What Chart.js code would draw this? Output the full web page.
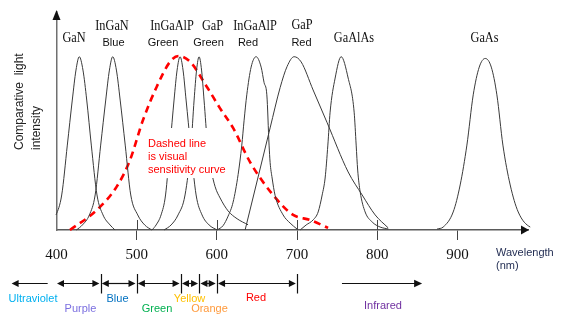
<!DOCTYPE html>
<html><head><meta charset="utf-8">
<script src="https://cdn.jsdelivr.net/npm/chart.js@4.4.1/dist/chart.umd.min.js"></script>
<style>html,body{margin:0;padding:0;background:#fff}#wrap{width:570px;height:322px;position:relative}</style>
</head><body><div id="wrap"><canvas id="c" width="570" height="322"></canvas></div>
<script>
// ---- data (wavelength nm, relative intensity) ----
const tickValues = [400, 500, 600, 700, 800, 900];
const ganX = [383.2, 390.6, 399.4, 406.5, 413.5, 419.7, 424.3, 428.4, 433.0, 437.7, 443.4, 450.5, 458.0, 466.8, 473.0];
const ganY = [0, 2.9, 8.7, 20.2, 49, 75, 92.3, 100, 92.3, 75, 49, 20.2, 8.7, 2.9, 0];
const inganX = [424.8, 432.3, 441.0, 448.2, 455.1, 461.4, 466.0, 470.1, 474.7, 479.4, 485.7, 492.6, 501.3, 510.0, 518.8];
const inganY = [0, 2.9, 8.7, 20.2, 49, 75, 92.3, 100, 92.3, 75, 49, 20.2, 8.7, 2.9, 0];
const ingaalpGreenX = [519.2, 524.2, 530.4, 536.0, 541.6, 546.6, 550.4, 554.1, 557.8, 561.6, 567.2, 574.1, 581.5, 590.3, 600.3];
const ingaalpGreenY = [0, 2.9, 8.7, 20.2, 49, 75, 92.3, 100, 92.3, 75, 49, 20.2, 8.7, 2.9, 0];
const gapGreenX = [534.1, 542.9, 551.6, 560.3, 567.8, 571.6, 574.7, 577.8, 580.9, 584.0, 588.4, 592.8, 597.8, 604.0, 614.0, 625.2, 638.9];
const gapGreenY = [0, 2.9, 8.7, 20.2, 49, 75, 92.3, 100, 92.3, 75, 49, 35, 25, 18.5, 11, 6.5, 3];
const ingaalpRedX = [600.3, 607.7, 614.0, 620.2, 626.5, 631.1, 633.9, 637.3, 642.7, 648.9, 655.2, 658.9, 662.3, 665.1, 666.4, 668.9, 672.6, 682.6, 691.3, 700.1];
const ingaalpRedY = [0, 2.5, 8, 16, 32, 49, 63, 78, 94, 100, 94, 85, 78, 49, 39, 30, 20, 8.7, 4, 0.5];
const gapRedX = [635.2, 650.8, 666.4, 678.9, 687.6, 696.3, 705.1, 720.0, 737.5, 763.7, 781.2, 797.4, 813.7];
const gapRedY = [0, 29.4, 58.9, 82.2, 94.4, 100, 97, 80.8, 61.9, 33.5, 20.2, 8.7, 1.2];
const gaalasX = [703.8, 711.3, 720.0, 726.3, 731.3, 735.0, 738.4, 741.2, 747.5, 755.0, 763.7, 771.2, 773.7, 775.6, 778.7, 784.9, 793.7, 803.6, 813.7];
const gaalasY = [0, 2.9, 5.8, 10.4, 20.2, 30, 49, 68, 87.7, 100, 87.7, 68, 49, 34.6, 22, 10.4, 4.6, 1.7, 0.6];
const gaasX = [874.7, 882.2, 894.7, 903.4, 911.8, 919.7, 927.2, 934.7, 942.2, 949.2, 956.7, 965.8, 975.8, 990.8, 1003.3];
const gaasY = [0.6, 1.7, 10.4, 26, 49, 78, 94, 99, 94, 78, 49, 26, 10.4, 1.7, 0.6];
const sensX = [416.8, 450.2, 475.1, 491.7, 507.9, 525.0, 541.6, 552.0, 566.6, 587.4, 604.0, 620.2, 641.4, 670.1, 695.1, 716.3, 738.7];
const sensY = [0, 11.5, 25, 40.4, 63.5, 82.7, 97.1, 100.4, 97.1, 82.7, 70.2, 58.9, 39.2, 20.2, 8.7, 5.8, 1.2];

const curveNames = ['GaN', 'InGaN', 'InGaAlP', 'GaP', 'InGaAlP', 'GaP', 'GaAlAs', 'GaAs'];
const curveSubs = ['', 'Blue', 'Green', 'Green', 'Red', 'Red', '', ''];
const bandEdges = [400, 455, 500, 555, 578, 600, 700];
const bandNames = ['Purple', 'Blue', 'Green', 'Yellow', 'Orange', 'Red'];
const uvRange = [344, 389];
const irRange = [756, 856];
const uvName = 'Ultraviolet';
const irName = 'Infrared';
const noteLines = ['Dashed line', 'is visual', 'sensitivity curve'];
const yTitle = ['Comparative  light', 'intensity'];
const xTitle = ['Wavelength', '(nm)'];

// ---- layout / style (pixels) ----
const nameLayout = [[74,38],[112,26],[172,26],[212.5,26],[255,26],[302,25],[354,38],[484.5,38]];
const subLayout = [null,[113.5,43],[163,43],[208.5,43],[248,43],[301.5,43],null,null];
const bandColors = ['#7b6fe0', '#0070c0', '#00b050', '#ffc000', '#ff9a3c', '#ff0000'];
const bandLabelPos = [[80.5,309],[117.5,299],[157,309],[189.5,299],[209.5,309],[256,298]];

function pts(xs, ys) { return xs.map((x, i) => ({x: x, y: ys[i]})); }
function blk(label, xs, ys) {
  return {label, data: pts(xs, ys), borderColor: '#3a3a3a', borderWidth: 1, pointRadius: 0,
    cubicInterpolationMode: 'monotone', clip: false, fill: false};
}
const SERIF = '"Liberation Serif", "Times New Roman", serif';
const SANS = '"Liberation Sans", Arial, sans-serif';

function serifText(ctx, t, x, y, size) {
  ctx.save();
  ctx.font = size + 'px ' + SERIF;
  ctx.translate(x, y); ctx.scale(0.82, 1);
  ctx.textAlign = 'center'; ctx.textBaseline = 'middle';
  ctx.fillText(t, 0, 0);
  ctx.restore();
}
function arrowHead(ctx, tipX, tipY, dir, len, half) {
  ctx.beginPath();
  ctx.moveTo(tipX, tipY);
  ctx.lineTo(tipX - dir * len, tipY - half);
  ctx.lineTo(tipX - dir * len, tipY + half);
  ctx.closePath(); ctx.fill();
}

const deco = {
  id: 'deco',
  afterDatasetsDraw(chart) {
    const ctx = chart.ctx;
    ctx.save();
    ctx.fillStyle = '#fff';
    ctx.fillRect(145, 128, 84, 50);
    ctx.fillStyle = '#ff0000';
    ctx.font = '11px ' + SANS;
    ctx.textAlign = 'left'; ctx.textBaseline = 'middle';
    noteLines.forEach((t, i) => ctx.fillText(t, 148, 144 + i * 13));
    ctx.restore();
  },
  afterDraw(chart) {
    const ctx = chart.ctx, xs = chart.scales.x, a = chart.chartArea;
    ctx.save();
    // axis arrows
    ctx.fillStyle = '#111';
    arrowHead(ctx, a.right + 1, a.bottom, 1, 8, 4.5);
    ctx.beginPath(); ctx.moveTo(a.left, a.top - 2); ctx.lineTo(a.left - 4, a.top + 8); ctx.lineTo(a.left + 4, a.top + 8); ctx.closePath(); ctx.fill();
    // upward parts of tick marks
    ctx.strokeStyle = '#444'; ctx.lineWidth = 1;
    tickValues.forEach(v => {
      if (v === 400 || v === 900) return;
      const px = Math.round(xs.getPixelForValue(v)) + 0.5;
      ctx.beginPath(); ctx.moveTo(px, a.bottom - 10); ctx.lineTo(px, a.bottom); ctx.stroke();
    });
    // curve labels
    ctx.fillStyle = '#111';
    curveNames.forEach((n, i) => serifText(ctx, n, nameLayout[i][0], nameLayout[i][1], 15));
    ctx.font = '11px ' + SANS; ctx.textAlign = 'center'; ctx.textBaseline = 'middle';
    curveSubs.forEach((s, i) => { if (s) ctx.fillText(s, subLayout[i][0], subLayout[i][1]); });
    // y title
    ctx.save();
    ctx.font = '12px ' + SANS; ctx.fillStyle = '#222';
    ctx.translate(0, 150); ctx.rotate(-Math.PI / 2);
    ctx.textAlign = 'left'; ctx.textBaseline = 'middle';
    ctx.fillText(yTitle[0], 0, 20);
    ctx.fillText(yTitle[1], 0, 37);
    ctx.restore();
    // x title
    ctx.font = '11px ' + SANS; ctx.fillStyle = '#1f2a50'; ctx.textAlign = 'left'; ctx.textBaseline = 'middle';
    ctx.fillText(xTitle[0], 496, 253);
    ctx.fillText(xTitle[1], 496, 266);
    // spectrum bands
    const ay = 283.5;
    ctx.strokeStyle = '#111'; ctx.fillStyle = '#111'; ctx.lineWidth = 1.2;
    const px = v => xs.getPixelForValue(v);
    for (let i = 0; i < bandNames.length; i++) {
      const x0 = px(bandEdges[i]) + (i === 0 ? 0.5 : 1.2), x1 = px(bandEdges[i + 1]) - 1.2;
      ctx.beginPath(); ctx.moveTo(x0 + 4, ay); ctx.lineTo(x1 - 4, ay); ctx.stroke();
      arrowHead(ctx, x0, ay, -1, 7, 3.6);
      arrowHead(ctx, x1, ay, 1, 7, 3.6);
    }
    bandEdges.forEach((e, i) => {
      if (i === 0) return;
      const bx = Math.round(px(e)) + 0.5;
      ctx.beginPath(); ctx.moveTo(bx, 274); ctx.lineTo(bx, 293.5); ctx.stroke();
    });
    // UV and IR arrows
    ctx.beginPath(); ctx.moveTo(px(uvRange[0]) + 4, ay); ctx.lineTo(px(uvRange[1]), ay); ctx.stroke();
    arrowHead(ctx, px(uvRange[0]), ay, -1, 7, 3.6);
    ctx.beginPath(); ctx.moveTo(px(irRange[0]), ay); ctx.lineTo(px(irRange[1]) - 4, ay); ctx.stroke();
    arrowHead(ctx, px(irRange[1]), ay, 1, 8, 3.8);
    // band labels
    ctx.font = '11px ' + SANS; ctx.textAlign = 'center'; ctx.textBaseline = 'middle';
    bandNames.forEach((n, i) => { ctx.fillStyle = bandColors[i]; ctx.fillText(n, bandLabelPos[i][0], bandLabelPos[i][1]); });
    ctx.fillStyle = '#00b0f0'; ctx.fillText(uvName, 33, 299);
    ctx.fillStyle = '#7030a0'; ctx.fillText(irName, 383, 306);
    ctx.restore();
  }
};

new Chart(document.getElementById('c'), {
  type: 'line',
  data: {
    datasets: [
      blk('GaN', ganX, ganY),
      blk('InGaN Blue', inganX, inganY),
      blk('InGaAlP Green', ingaalpGreenX, ingaalpGreenY),
      blk('GaP Green', gapGreenX, gapGreenY),
      blk('InGaAlP Red', ingaalpRedX, ingaalpRedY),
      blk('GaP Red', gapRedX, gapRedY),
      blk('GaAlAs', gaalasX, gaalasY),
      blk('GaAs', gaasX, gaasY),
      {label: 'Visual sensitivity', data: pts(sensX, sensY), borderColor: '#ff0000', borderWidth: 2.6,
        borderDash: [7, 5], pointRadius: 0, cubicInterpolationMode: 'monotone', clip: false, fill: false}
    ]
  },
  options: {
    responsive: false, animation: false, devicePixelRatio: 1,
    layout: {padding: {left: 56.5, right: 42, top: 12, bottom: 0}},
    plugins: {legend: {display: false}, tooltip: {enabled: false}},
    scales: {
      x: {
        type: 'linear', min: 400, max: 988,
        afterFit: s => { s.height = 92; },
        afterBuildTicks: s => { s.ticks = tickValues.map(v => ({value: v})); },
        grid: {drawOnChartArea: false, drawTicks: true, tickLength: 10,
          color: c => (c.tick && c.tick.value === 400) ? 'rgba(0,0,0,0)' : '#444', lineWidth: 1},
        border: {display: true, color: '#5a5a5a', width: 1.5},
        ticks: {font: {family: SERIF, size: 15}, color: '#111', padding: 6, maxRotation: 0, autoSkip: false,
          callback: v => String(v)}
      },
      y: {
        min: 0, max: 125.8,
        afterFit: s => { s.width = 0; },
        grid: {display: false, drawTicks: false},
        border: {display: true, color: '#707070', width: 1.5},
        ticks: {display: false}
      }
    }
  },
  plugins: [deco]
});
</script></body></html>
